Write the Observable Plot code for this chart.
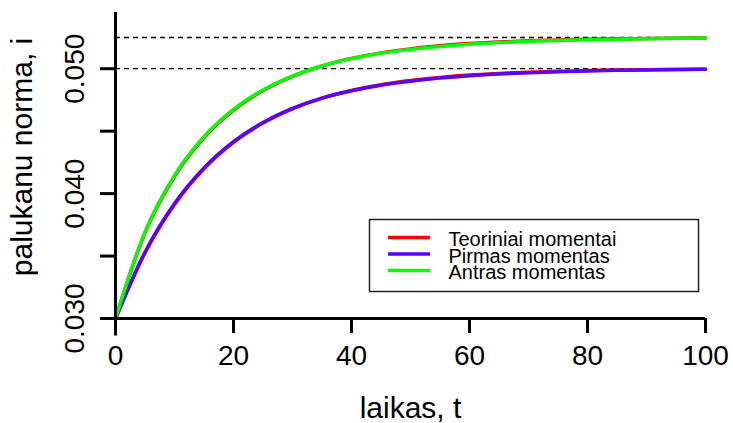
<!DOCTYPE html>
<html>
<head>
<meta charset="utf-8">
<script src="https://cdn.jsdelivr.net/npm/d3@7"></script>
<script src="https://cdn.jsdelivr.net/npm/@observablehq/plot@0.6"></script>
<style>
  html, body { margin: 0; padding: 0; background: #fff; }
  #chart svg { display: block; }
</style>
</head>
<body>
<div id="chart"></div>
<script>
// time grid, t
const t = [0, 5, 10, 15, 20, 25, 30, 35, 40, 45, 50, 55, 60, 65, 70, 75, 80, 85, 90, 95, 100];

// theoretical moments (red)
const theoryFirst  = [0.0300, 0.03526, 0.03913, 0.04199, 0.04410, 0.04565, 0.04679, 0.04764, 0.04826, 0.04872, 0.04905,
                      0.04930, 0.04949, 0.04962, 0.04972, 0.04979, 0.04985, 0.04989, 0.04992, 0.04994, 0.04996];
const theorySecond = [0.0300, 0.03688, 0.04137, 0.04448, 0.04668, 0.04825, 0.04939, 0.05022, 0.05083, 0.05127, 0.05159,
                      0.05183, 0.05201, 0.05214, 0.05223, 0.05230, 0.05236, 0.05239, 0.05242, 0.05244, 0.05246];

// estimated moments
const firstMoment  = [0.0300, 0.03530, 0.03920, 0.04206, 0.04416, 0.04569, 0.04682, 0.04765, 0.04824, 0.04868, 0.04900,
                      0.04925, 0.04944, 0.04958, 0.04968, 0.04976, 0.04982, 0.04987, 0.04990, 0.04993, 0.04995];
const secondMoment = [0.0300, 0.03692, 0.04144, 0.04455, 0.04674, 0.04829, 0.04941, 0.05022, 0.05081, 0.05124, 0.05155,
                      0.05178, 0.05196, 0.05209, 0.05219, 0.05226, 0.05232, 0.05236, 0.05240, 0.05243, 0.05245];

const seriesNames  = ["Teoriniai momentai", "Pirmas momentas", "Antras momentas"];
const seriesColors = ["#ff0000", "#5a00ff", "#00ff00"];

// long-run limits
const limits = [0.050, 0.0525];

const xTicks = [0, 20, 40, 60, 80, 100];
const yTicks = [0.030, 0.035, 0.040, 0.045, 0.050];
const yTickLabels = [0.030, 0.040, 0.050];
const xAxisSpan = [-2.5, 100];
const yAxisSpan = [0.0286, 0.0545];

const rows = (ys, name) => t.map((tt, i) => ({t: tt, v: ys[i], name}));
const redA = rows(theoryFirst, seriesNames[0]);
const redB = rows(theorySecond, seriesNames[0]);
const blue = rows(firstMoment, seriesNames[1]);
const green = rows(secondMoment, seriesNames[2]);

const lineOpts = (color) => ({x: "t", y: "v", stroke: color, strokeWidth: 3.5, curve: "monotone-x"});
const fmt = d3.format(".3f");

const plot = Plot.plot({
  width: 733,
  height: 423,
  marginLeft: 115,
  marginRight: 28,
  marginTop: 37,
  marginBottom: 105,
  style: {fontFamily: "Liberation Sans, Arial, sans-serif", background: "#fff", color: "#000"},
  x: {domain: [0, 100], axis: null},
  y: {domain: [0.030, 0.0525], axis: null},
  marks: [
    Plot.ruleY(limits, {x1: 0, x2: 100, stroke: "#000", strokeWidth: 1.3, strokeDasharray: "5,4"}),
    Plot.line(redA, lineOpts(seriesColors[0])),
    Plot.line(redB, lineOpts(seriesColors[0])),
    Plot.line(blue, lineOpts(seriesColors[1])),
    Plot.line(green, lineOpts(seriesColors[2])),
    // axis lines
    Plot.ruleY([0.030], {x1: xAxisSpan[0], x2: xAxisSpan[1], stroke: "#000", strokeWidth: 3}),
    Plot.ruleX([0], {y1: yAxisSpan[0], y2: yAxisSpan[1], stroke: "#000", strokeWidth: 3}),
    Plot.axisX({ticks: xTicks, tickSize: 15, tickPadding: 12, strokeWidth: 3, fontSize: 28,
                tickFormat: d => String(d), label: null}),
    Plot.axisY({ticks: yTicks, tickSize: 15, strokeWidth: 3, tickFormat: () => "", label: null}),
    Plot.axisY({ticks: yTickLabels, tickSize: 15, tickPadding: 17, tickRotate: -90, strokeWidth: 0,
                fontSize: 28, tickFormat: fmt, label: null}),
    Plot.text(["laikas, t"], {frameAnchor: "bottom", dy: 99, lineAnchor: "bottom", textAnchor: "middle", fontSize: 30}),
    Plot.text(["palukanu norma, i"], {frameAnchor: "left", rotate: -90, dx: -84, dy: -21,
                                     lineAnchor: "bottom", textAnchor: "middle", fontSize: 30})
  ]
});

// legend box inside the plot area
const svg = d3.select(plot);
const lg = svg.append("g").attr("font-family", "Liberation Sans, Arial, sans-serif").attr("text-anchor", "start");
lg.append("rect").attr("x", 369.5).attr("y", 219.5).attr("width", 329).attr("height", 72)
  .attr("fill", "#fff").attr("stroke", "#222").attr("stroke-width", 1.5);
seriesNames.forEach((name, i) => {
  const cy = 237.5 + i * 16.5;
  lg.append("line").attr("x1", 388).attr("x2", 430).attr("y1", cy).attr("y2", cy)
    .attr("stroke", seriesColors[i]).attr("stroke-width", 3.5);
  lg.append("text").attr("x", 448.5).attr("y", cy + 8.5).attr("font-size", 20).attr("fill", "#000").text(name);
});

document.getElementById("chart").appendChild(plot);
</script>
</body>
</html>
